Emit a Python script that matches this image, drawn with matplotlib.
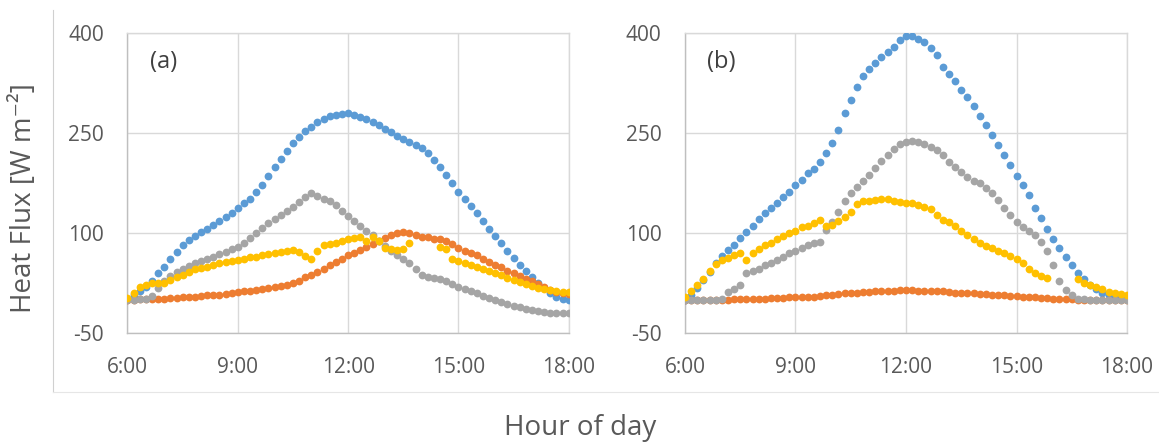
import numpy as np
import pandas as pd
import matplotlib
matplotlib.use("Agg")
import matplotlib.pyplot as plt
import matplotlib.dates as mdates
from matplotlib.lines import Line2D

plt.rcParams['font.family'] = ['Open Sans', 'DejaVu Sans']
plt.rcParams['axes.unicode_minus'] = False

nan = np.nan

# --- 10-minute time stamps, 6:00 to 18:00
times = pd.date_range("2020-06-01 06:00", "2020-06-01 18:00", freq="10min")

# --- panel (a), one row per hour
a_blue = [2, 7, 13, 20, 29, 40,
          50, 61, 72, 82, 90, 96,
          102, 107, 112, 118, 124, 131,
          138, 145, 152, 162, 173, 186,
          199, 212, 224, 235, 245, 253,
          260, 267, 272, 276, 278, 279,
          280, 278, 275, 272, 267, 262,
          257, 252, 246, 242, 237, 233,
          228, 220, 210, 200, 188, 175,
          162, 152, 141, 130, 118, 107,
          96, 85, 74, 63, 53, 44,
          35, 26, 18, 10, 5, 1,
          0]
a_orange = [0, 0, 1, 1, 2, 2,
            2, 3, 3, 4, 5, 5,
            6, 7, 8, 8, 9, 10,
            12, 13, 14, 15, 16, 18,
            19, 21, 23, 25, 29, 34,
            38, 42, 47, 52, 57, 62,
            67, 71, 75, 79, 84, 89,
            93, 97, 100, 102, 101, 98,
            95, 94, 92, 91, 88, 84,
            78, 74, 71, 67, 62, 57,
            53, 49, 44, 40, 36, 32,
            28, 24, 19, 15, 12, 10,
            9]
a_gray = [0, 0, 1, 2, 6, 18,
          29, 36, 42, 47, 51, 55,
          58, 62, 65, 69, 72, 76,
          80, 86, 93, 100, 108, 115,
          121, 127, 133, 140, 147, 155,
          160, 156, 152, 148, 142, 134,
          126, 119, 111, 104, 98, 89,
          81, 74, 68, 62, 55, 46,
          38, 35, 33, 31, 28, 24,
          20, 16, 13, 10, 6, 3,
          0, -3, -6, -9, -11, -13,
          -15, -17, -18, -19, -20, -20,
          -20]
a_yellow = [3, 10, 20, 23, 25, 25,
            26, 30, 34, 38, 42, 46,
            48, 50, 52, 55, 57, 58,
            60, 62, 64, 65, 67, 69,
            70, 72, 74, 75, 72, 66,
            62, 73, 83, 84, 86, 88,
            91, 93, 95, 88, 95, 88,
            78, 76, 75, 77, 85, nan,
            nan, nan, nan, 80, 76, 62,
            58, 55, 52, 49, 46, 43,
            40, 37, 33, 30, 27, 24,
            21, 18, 16, 15, 13, 12,
            12]

# --- panel (b)
b_blue = [0, 8, 18, 30, 42, 55,
          66, 75, 83, 93, 102, 111,
          121, 130, 138, 146, 155, 162,
          172, 180, 190, 197, 207, 221,
          236, 255, 280, 300, 320, 336,
          346, 355, 364, 372, 380, 390,
          396, 396, 392, 387, 378, 367,
          350, 339, 328, 315, 304, 291,
          276, 262, 247, 233, 218, 202,
          186, 172, 157, 138, 123, 107,
          92, 78, 65, 52, 40, 31,
          23, 16, 11, 7, 5, 3,
          2]
b_orange = [0, 0, 0, 0, 0, 0,
            0, 0, 1, 1, 1, 2,
            2, 2, 3, 3, 3, 4,
            4, 4, 5, 5, 6, 7,
            8, 9, 10, 10, 11, 12,
            12, 13, 13, 14, 14, 15,
            15, 15, 14, 14, 14, 13,
            13, 12, 11, 11, 10, 10,
            9, 9, 8, 8, 7, 6,
            6, 5, 5, 4, 3, 3,
            2, 2, 1, 1, 0, 0,
            0, 0, 0, 0, 0, 0,
            0]
b_gray = [0, 0, 0, 0, 0, 0,
          1, 12, 16, 22, 40, 43,
          47, 52, 56, 60, 65, 70,
          74, 78, 82, 85, 87, 105,
          117, 132, 148, 160, 170, 178,
          188, 198, 208, 218, 227, 234,
          237, 238, 237, 234, 230, 225,
          217, 207, 200, 192, 185, 179,
          175, 168, 160, 150, 138, 127,
          117, 110, 104, 98, 87, 74,
          53, 28, 15, 7, 2, 1,
          0, 0, 0, 0, 0, 0,
          0]
b_yellow = [5, 14, 23, 31, 44, 54,
            60, 63, 68, 70, 60, 71,
            77, 82, 86, 92, 96, 100,
            104, 109, 111, 115, 120, 111,
            112, 118, 124, 132, 144, 149,
            149, 150, 152, 151, 148, 147,
            146, 145, 142, 140, 136, 127,
            120, 117, 111, 103, 97, 91,
            86, 81, 78, 74, 70, 66,
            62, 55, 46, 40, 36, 33,
            nan, nan, nan, nan, 31, 26,
            22, 19, 16, 12, 10, 9,
            8]

colors = ["#5B9BD5", "#ED7D31", "#A5A5A5", "#FFC000"]
txt = "#595959"

fig = plt.figure(figsize=(11.59, 4.43), dpi=100)
ax_a = fig.add_axes([0.110, 0.2476, 0.3807, 0.6772])
ax_b = fig.add_axes([0.5910, 0.2476, 0.3814, 0.6772])

panels = [(ax_a, "(a)", [a_blue, a_orange, a_gray, a_yellow]),
          (ax_b, "(b)", [b_blue, b_orange, b_gray, b_yellow])]

for ax, label, series in panels:
    for k, (vals, c) in enumerate(zip(series, colors)):
        ax.plot(times, vals, ls="none", marker="o", ms=5.6, mew=0,
                color=c, zorder=3 + k)
    ax.set_ylim(-50, 400)
    ax.set_yticks([-50, 100, 250, 400])
    ax.set_xlim(times[0], times[-1])
    ax.xaxis.set_major_locator(mdates.HourLocator(byhour=[6, 9, 12, 15, 18]))
    ax.xaxis.set_major_formatter(mdates.DateFormatter("%-H:%M"))
    ax.grid(True, color="#D9D9D9", lw=1.0)
    ax.set_axisbelow(True)
    ax.tick_params(length=0, labelsize=15, labelcolor=txt, pad=17)
    for side in ["left", "bottom"]:
        ax.spines[side].set_color("#BFBFBF")
        ax.spines[side].set_linewidth(1.0)
    for side in ["top", "right"]:
        ax.spines[side].set_color("#D9D9D9")
        ax.spines[side].set_linewidth(1.0)
    ax.text(0.05, 0.905, label, transform=ax.transAxes, fontsize=17,
            color="#404040", va="center", ha="left")

fig.text(24 / 1159, 1 - 198 / 443, "Heat Flux [W m\u207b\u00b2]", rotation=90,
         fontsize=20, color=txt, ha="center", va="center")
fig.text(580 / 1159, 1 - 435 / 443, "Hour of day", fontsize=20, color=txt,
         ha="center", va="baseline")

# --- chart area border (left and bottom only)
fig.add_artist(Line2D([53.3 / 1159] * 2, [1 - 10 / 443, 1 - 391.7 / 443],
                      transform=fig.transFigure, color="#D0D0D0", lw=0.8))
fig.add_artist(Line2D([53.3 / 1159, 1], [1 - 391.7 / 443] * 2,
                      transform=fig.transFigure, color="#E6E6E6", lw=0.8))

fig.savefig("out.png", dpi=100)
